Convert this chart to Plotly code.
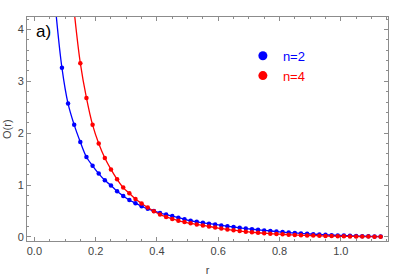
import plotly.graph_objects as go

# ---- data ----
blue_r = [0.09, 0.11, 0.13, 0.15, 0.17, 0.19, 0.21, 0.23, 0.25, 0.27, 0.29, 0.31, 0.33, 0.35,
          0.37, 0.39, 0.41, 0.43, 0.45, 0.47, 0.49, 0.51, 0.53, 0.55, 0.57, 0.59, 0.61, 0.63,
          0.65, 0.67, 0.69, 0.71, 0.73, 0.75, 0.77, 0.79, 0.81, 0.83, 0.85, 0.87, 0.89, 0.91,
          0.93, 0.95, 0.97, 0.99, 1.01, 1.03, 1.05, 1.07, 1.09, 1.11, 1.13]
blue_O = [3.26, 2.57, 2.16, 1.83, 1.54, 1.37, 1.22, 1.09, 0.99, 0.88, 0.79, 0.71, 0.65, 0.59,
          0.54, 0.50, 0.46, 0.43, 0.40, 0.37, 0.34, 0.31, 0.29, 0.27, 0.255, 0.24, 0.22, 0.205,
          0.19, 0.175, 0.16, 0.148, 0.136, 0.124, 0.113, 0.102, 0.092, 0.083, 0.074, 0.066, 0.058, 0.051,
          0.045, 0.039, 0.033, 0.028, 0.024, 0.020, 0.016, 0.013, 0.010, 0.008, 0.006]

red_r = [0.15, 0.17, 0.19, 0.21, 0.23, 0.25, 0.27, 0.29, 0.31, 0.33, 0.35, 0.37, 0.39, 0.41,
         0.43, 0.45, 0.47, 0.49, 0.51, 0.53, 0.55, 0.57, 0.59, 0.61, 0.63, 0.65, 0.67, 0.69,
         0.71, 0.73, 0.75, 0.77, 0.79, 0.81, 0.83, 0.85, 0.87, 0.89, 0.91, 0.93, 0.95, 0.97,
         0.99, 1.01, 1.03, 1.05, 1.07, 1.09, 1.11, 1.13]
red_O = [3.35, 2.68, 2.16, 1.80, 1.52, 1.30, 1.11, 0.95, 0.84, 0.73, 0.645, 0.565, 0.495, 0.43,
         0.385, 0.345, 0.31, 0.285, 0.26, 0.24, 0.22, 0.20, 0.18, 0.16, 0.143, 0.128, 0.113, 0.10,
         0.089, 0.079, 0.070, 0.062, 0.055, 0.048, 0.042, 0.037, 0.032, 0.028, 0.024, 0.021, 0.018, 0.015,
         0.013, 0.011, 0.009, 0.007, 0.006, 0.005, 0.004, 0.003]

# fitted curves continue above the plotted window
blue_curve_start_r = [0.07]
blue_curve_start_O = [4.35]
red_curve_start_r = [0.13]
red_curve_start_O = [4.35]

series_names = ["n=2", "n=4"]
x_ticks = [0.0, 0.2, 0.4, 0.6, 0.8, 1.0]
x_tick_labels = ["0.0", "0.2", "0.4", "0.6", "0.8", "1.0"]
y_ticks = [0, 1, 2, 3, 4]

BLUE = "#0000ff"
RED = "#ff0000"
FONT = "Arial, Liberation Sans, sans-serif"

fig = go.Figure()

# curves
fig.add_trace(go.Scatter(x=blue_curve_start_r + blue_r, y=blue_curve_start_O + blue_O,
                         mode="lines", line=dict(color=BLUE, width=1.3, shape="spline"),
                         showlegend=False, hoverinfo="skip"))
fig.add_trace(go.Scatter(x=red_curve_start_r + red_r, y=red_curve_start_O + red_O,
                         mode="lines", line=dict(color=RED, width=1.3, shape="spline"),
                         showlegend=False, hoverinfo="skip"))
# points
fig.add_trace(go.Scatter(x=blue_r, y=blue_O, mode="markers",
                         marker=dict(color=BLUE, size=4.5), showlegend=False))
fig.add_trace(go.Scatter(x=red_r, y=red_O, mode="markers",
                         marker=dict(color=RED, size=4.5), showlegend=False))
# legend entries
fig.add_trace(go.Scatter(x=[None], y=[None], mode="markers", marker=dict(color=BLUE, size=9),
                         name=f"<span style='color:{BLUE}'>{series_names[0]}</span>"))
fig.add_trace(go.Scatter(x=[None], y=[None], mode="markers", marker=dict(color=RED, size=9),
                         name=f"<span style='color:{RED}'>{series_names[1]}</span>"))

axis_common = dict(
    showgrid=False, zeroline=False, showline=True, linecolor="#8c8c8c", linewidth=1,
    mirror="ticks", ticks="inside", ticklen=4, tickcolor="#8c8c8c", tickwidth=1,
    tickfont=dict(family=FONT, size=11, color="#444444"), automargin=False,
)

fig.update_xaxes(range=[-0.024, 1.154], tickvals=x_ticks, ticktext=x_tick_labels,
                 minor=dict(dtick=0.05, ticks="inside", ticklen=2, tickcolor="#8c8c8c"),
                 title=dict(text="r", font=dict(family=FONT, size=11, color="#444444")),
                 **axis_common)
fig.update_yaxes(range=[-0.08, 4.24], tickvals=y_ticks,
                 minor=dict(dtick=0.2, ticks="inside", ticklen=2, tickcolor="#8c8c8c"),
                 **axis_common)

# y-axis title placed as rotated text left of the tick labels
fig.add_annotation(text="O(r)", xref="paper", yref="paper", x=0, y=0.5, xshift=-20,
                   xanchor="center", yanchor="middle", textangle=-90, showarrow=False,
                   font=dict(family=FONT, size=11, color="#444444"))

fig.add_annotation(text="a)", xref="paper", yref="paper", x=0.02, y=0.985,
                   xanchor="left", yanchor="top", showarrow=False,
                   font=dict(family=FONT, size=17, color="black"))

fig.update_layout(
    width=407, height=276,
    margin=dict(l=27, r=19, t=17, b=35),
    paper_bgcolor="white", plot_bgcolor="white",
    legend=dict(x=0.598, y=0.894, xanchor="left", yanchor="top",
                bgcolor="rgba(0,0,0,0)", font=dict(family=FONT, size=13)),
    font=dict(family=FONT),
)

# remove the page's default body margin so the figure fills the window
fig.write_html("out.html", config={"displayModeBar": False},
               post_script="document.body.style.margin='0';")
